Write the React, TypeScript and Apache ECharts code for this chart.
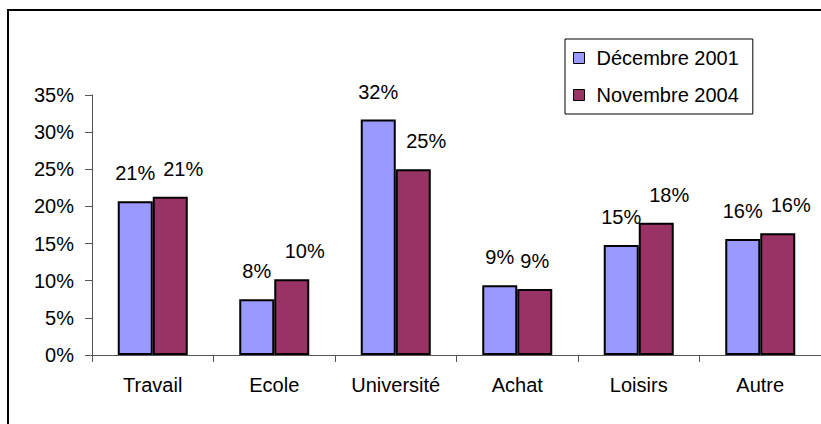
import React, { useEffect, useRef } from "react";
import * as echarts from "echarts";

const categories = ["Travail", "Ecole", "Université", "Achat", "Loisirs", "Autre"];
const seriesNames = ["Décembre 2001", "Novembre 2004"];
const dec2001 = [20.7, 7.5, 31.7, 9.4, 14.8, 15.6];
const nov2004 = [21.3, 10.2, 25.0, 8.9, 17.8, 16.4];
const seriesColors = ["#9999FF", "#993366"];

const FONT = "'Liberation Sans', Arial, sans-serif";

export default function App() {
  const ref = useRef<HTMLDivElement>(null);
  useEffect(() => {
    if (!ref.current) return;
    const chart = echarts.init(ref.current, null, { renderer: "svg" });
    const mkSeries = (name: string, data: number[], color: string, shift: number) => ({
      name,
      type: "bar",
      data: data.map((v) => ({
        value: v,
        label: { offset: [Math.round(v) >= 10 ? shift : 0, 0] },
      })),
      barWidth: 35,
      barGap: "0%",
      itemStyle: { color, borderColor: "#000", borderWidth: 2 },
      label: {
        show: true,
        position: "top",
        distance: 18,
        formatter: (p: any) => Math.round(p.value) + "%",
        color: "#000",
        fontSize: 20,
        fontFamily: FONT,
      },
    });
    chart.setOption({
      animation: false,
      textStyle: { fontFamily: FONT },
      graphic: [
        {
          type: "rect",
          shape: { x: 8, y: 10, width: 900, height: 500 },
          style: { fill: "none", stroke: "#000", lineWidth: 2 },
          z: 100,
        },
      ],
      legend: {
        orient: "vertical",
        left: 565,
        top: 39,
        data: seriesNames,
        itemWidth: 11,
        itemHeight: 11,
        itemGap: 17,
        padding: [9, 14, 9, 8],
        borderColor: "#000",
        borderWidth: 1,
        icon: "rect",
        itemStyle: { borderColor: "#000", borderWidth: 1 },
        textStyle: { fontSize: 20, color: "#000", fontFamily: FONT, padding: [0, 0, 0, 7] },
      },
      grid: { left: 92, top: 95, right: -8, bottom: 69, containLabel: false },
      xAxis: {
        type: "category",
        data: categories,
        axisLine: { lineStyle: { color: "#555", width: 1 } },
        axisTick: { show: true, length: 7, lineStyle: { color: "#555" } },
        axisLabel: { fontSize: 20, color: "#000", margin: 20, fontFamily: FONT },
      },
      yAxis: {
        type: "value",
        min: 0,
        max: 35,
        interval: 5,
        axisLine: { show: true, lineStyle: { color: "#555", width: 1 } },
        axisTick: { show: true, length: 7, lineStyle: { color: "#555" } },
        splitLine: { show: false },
        axisLabel: { fontSize: 20, color: "#000", margin: 18, formatter: "{value}%", fontFamily: FONT },
      },
      series: [
        mkSeries(seriesNames[0], dec2001, seriesColors[0], 0),
        mkSeries(seriesNames[1], nov2004, seriesColors[1], 13),
      ],
    });
    return () => chart.dispose();
  }, []);
  return (
    <div
      ref={ref}
      style={{ position: "fixed", left: 0, top: 0, width: 821, height: 424, background: "#fff" }}
    />
  );
}
